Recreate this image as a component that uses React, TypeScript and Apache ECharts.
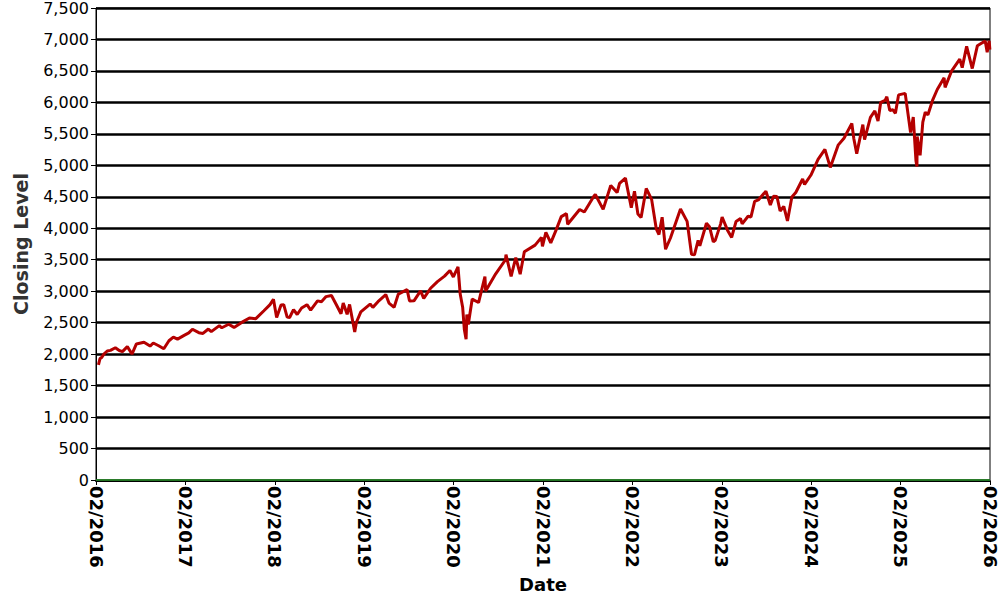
import React, { useEffect, useRef } from "react";
import * as echarts from "echarts";

const dates: string[] = [
  "2016-02-11","2016-02-17","2016-02-25","2016-03-04","2016-03-18","2016-03-31","2016-04-20","2016-05-06","2016-05-19","2016-06-08","2016-06-27","2016-07-15","2016-08-15","2016-09-09","2016-09-22","2016-10-14","2016-11-04","2016-11-25","2016-12-13","2016-12-30",
  "2017-01-26","2017-02-14","2017-03-01","2017-03-27","2017-04-13","2017-05-05","2017-05-17","2017-06-19","2017-06-29","2017-07-27","2017-08-18","2017-09-20","2017-10-20","2017-11-15","2017-12-18",
  "2018-01-12","2018-01-26","2018-02-08","2018-02-26","2018-03-09","2018-03-23","2018-04-02","2018-04-18","2018-05-03","2018-05-21","2018-06-12","2018-06-27","2018-07-25","2018-08-10","2018-08-29","2018-09-20","2018-10-10","2018-10-29","2018-11-07","2018-11-23","2018-12-03","2018-12-24","2018-12-31",
  "2019-01-18","2019-02-25","2019-03-08","2019-03-29","2019-04-30","2019-05-13","2019-06-03","2019-06-20","2019-07-26","2019-08-05","2019-08-23","2019-09-19","2019-10-02","2019-10-30","2019-11-27","2019-12-26",
  "2020-01-17","2020-01-31","2020-02-19","2020-02-28","2020-03-09","2020-03-16","2020-03-23","2020-03-26","2020-04-01","2020-04-17","2020-05-13","2020-06-08","2020-06-11","2020-07-22","2020-08-31","2020-09-02","2020-09-23","2020-10-12","2020-10-30","2020-11-16","2020-12-30",
  "2021-01-25","2021-01-29","2021-02-12","2021-03-04","2021-03-26","2021-04-16","2021-05-07","2021-05-12","2021-06-30","2021-07-19","2021-08-27","2021-09-02","2021-10-04","2021-11-04","2021-11-30","2021-12-10",
  "2022-01-03","2022-01-27","2022-02-09","2022-02-23","2022-03-08","2022-03-29","2022-04-20","2022-05-09","2022-05-20","2022-06-02","2022-06-16","2022-07-06","2022-08-16","2022-09-12","2022-09-30","2022-10-12","2022-10-27","2022-11-03","2022-11-30","2022-12-13","2022-12-28",
  "2023-01-05","2023-01-27","2023-02-02","2023-02-24","2023-03-13","2023-03-31","2023-04-18","2023-04-25","2023-05-19","2023-05-31","2023-06-15","2023-06-30","2023-07-31","2023-08-18","2023-08-31","2023-09-14","2023-09-27","2023-10-12","2023-10-27","2023-11-14","2023-11-30","2023-12-28",
  "2024-01-05","2024-01-31","2024-02-29","2024-03-28","2024-04-19","2024-05-21","2024-06-14","2024-07-16","2024-07-24","2024-08-05","2024-08-30","2024-09-06","2024-09-30","2024-10-18","2024-10-31","2024-11-11","2024-11-29","2024-12-06","2024-12-18","2024-12-31",
  "2025-01-10","2025-01-23","2025-02-19","2025-03-13","2025-03-24","2025-04-04","2025-04-08","2025-04-09","2025-04-21","2025-05-02","2025-05-12","2025-05-23","2025-06-12","2025-06-30","2025-07-28","2025-08-01","2025-08-28","2025-09-30","2025-10-10","2025-10-28","2025-11-20","2025-12-11","2025-12-24",
  "2026-01-12","2026-01-20","2026-01-28","2026-01-31"
];

const closes: number[] = [
  1829,1926,1951,2000,2050,2060,2102,2057,2040,2119,2001,2162,2190,2128,2177,2133,2085,2213,2271,2239,
  2298,2337,2396,2341,2329,2399,2357,2453,2419,2475,2425,2508,2575,2564,2690,
  2786,2873,2581,2780,2786,2588,2582,2708,2630,2733,2786,2700,2846,2833,2914,2931,2785,2641,2813,2632,2790,2351,2507,
  2671,2796,2743,2834,2946,2812,2744,2954,3025,2844,2847,3006,2887,3047,3153,3240,
  3330,3226,3386,2954,2746,2386,2237,2630,2470,2875,2820,3232,3002,3277,3500,3580,3237,3534,3270,3626,3732,
  3855,3714,3934,3768,3975,4185,4232,4063,4298,4258,4509,4537,4300,4680,4567,4712,
  4797,4326,4587,4226,4170,4632,4459,3991,3901,4176,3667,3845,4305,4110,3586,3577,3807,3720,4080,4019,3783,
  3808,4070,4179,3970,3855,4109,4154,4071,4191,4180,4426,4450,4589,4370,4508,4505,4274,4349,4117,4496,4568,4783,
  4697,4846,5096,5254,4967,5321,5431,5667,5427,5186,5648,5408,5762,5864,5705,6001,6032,6090,5872,5882,
  5827,6119,6144,5521,5767,5074,4982,5457,5158,5686,5844,5803,6045,6205,6390,6238,6502,6688,6553,6891,6538,6901,6932,
  6977,6797,6978,6840
];

const startYear = 2016;
const yearTicks: number[] = [2016, 2017, 2018, 2019, 2020, 2021, 2022, 2023, 2024, 2025, 2026];
const yMax = 7500;
const yStep = 500;

const origin = Date.parse("2016-02-01T00:00:00Z");
const yearMs = 365.25 * 24 * 3600 * 1000;
const toYears = (d: string) => (Date.parse(d + "T00:00:00Z") - origin) / yearMs;

const FONT = "'DejaVu Sans', Verdana, sans-serif";

export default function App() {
  const ref = useRef<HTMLDivElement>(null);
  useEffect(() => {
    if (!ref.current) return;
    const chart = echarts.init(ref.current, undefined, { renderer: "svg" });
    const seriesData = dates.map((d, i) => [toYears(d), closes[i]]);
    const span = yearTicks[yearTicks.length - 1] - yearTicks[0];
    chart.setOption({
      animation: false,
      backgroundColor: "#ffffff",
      grid: {
        left: 96,
        right: 10,
        top: 6,
        bottom: 120,
        show: true,
        borderColor: "#000",
        borderWidth: 1,
        backgroundColor: "transparent",
      },
      xAxis: {
        type: "value",
        min: 0,
        max: span,
        interval: 1,
        offset: 1,
        name: "Date",
        nameLocation: "middle",
        nameGap: 93,
        nameTextStyle: { fontFamily: FONT, fontSize: 18, fontWeight: "bold", color: "#000" },
        axisLine: { show: true, onZero: false, lineStyle: { color: "#000", width: 2 } },
        axisTick: { show: true, length: 4, lineStyle: { color: "#000", width: 1 } },
        splitLine: { show: false },
        axisLabel: {
          rotate: -90,
          margin: 5,
          fontFamily: FONT,
          fontSize: 18,
          fontWeight: "bold",
          color: "#000",
          formatter: (v: number) => "02/" + (startYear + Math.round(v)),
        },
      },
      yAxis: {
        type: "value",
        min: 0,
        max: yMax,
        interval: yStep,
        name: "Closing Level",
        nameLocation: "middle",
        nameGap: 66,
        nameTextStyle: { fontFamily: FONT, fontSize: 19, fontWeight: "bold", color: "#333" },
        axisLine: { show: true, lineStyle: { color: "#000", width: 1 } },
        axisTick: { show: true, length: 5, lineStyle: { color: "#000", width: 1 } },
        splitLine: { show: true, lineStyle: { color: "#000", width: 2.5 } },
        axisLabel: {
          margin: 7,
          fontFamily: FONT,
          fontSize: 16,
          color: "#000",
          formatter: (v: number) => v.toLocaleString("en-US"),
        },
      },
      series: [
        {
          name: "Zero",
          type: "line",
          data: [[0, 0], [span, 0]],
          symbol: "none",
          clip: false,
          lineStyle: { color: "#2e9a2e", width: 1.5 },
          z: 5,
        },
        {
          name: "Closing Level",
          type: "line",
          data: seriesData,
          symbol: "none",
          lineStyle: { color: "#b40000", width: 3 },
          z: 6,
        },
      ],
    });
    return () => chart.dispose();
  }, []);
  return (
    <div
      ref={ref}
      style={{ position: "fixed", left: 0, top: 0, width: 1000, height: 600 }}
    />
  );
}
